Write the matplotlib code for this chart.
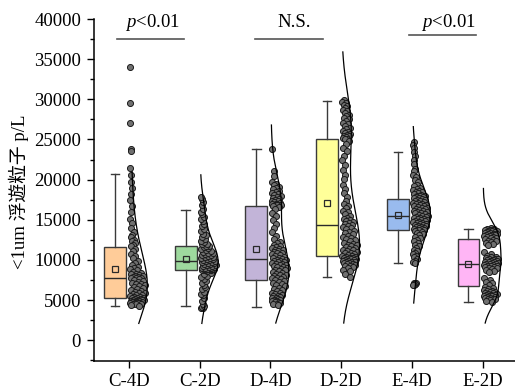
import numpy as np
import matplotlib
matplotlib.use("Agg")
import matplotlib.pyplot as plt
from matplotlib.ticker import MultipleLocator

plt.rcParams['font.family'] = ['Liberation Serif', 'Noto Sans CJK JP']
plt.rcParams['mathtext.fontset'] = 'custom'
plt.rcParams['mathtext.rm'] = 'Liberation Serif'
plt.rcParams['mathtext.it'] = 'Liberation Serif:italic'

groups = ['C-4D', 'C-2D', 'D-4D', 'D-2D', 'E-4D', 'E-2D']

# 各组 <1um 浮遊粒子 计数 (p/L)
c4d = [34000, 29600, 27100, 23800, 23600, 21400,
       20600, 19650, 18900, 18250, 17450, 16700, 15950, 15150, 14620, 14030, 13480, 13120,
       12840, 12510, 12330, 12090, 11880, 11690,
       11420, 11130, 10790, 10520, 10230, 9880, 9640, 9410, 9170, 9020, 8840, 8690,
       8560, 8410, 8290, 8210, 8080, 8010, 7960, 7880, 7860, 7790, 7750, 7710,
       7630, 7470, 7420, 7290, 7170, 7060, 6960, 6860, 6740, 6590, 6530, 6370,
       6290, 6140, 6060, 5950, 5850, 5780, 5680, 5600, 5520, 5440, 5390, 5320,
       5270, 5230, 5150, 5120, 5060, 5040, 4980, 4960, 4910, 4890, 4840, 4820,
       4770, 4760, 4710, 4700, 4650, 4640, 4590, 4550, 4530, 4470, 4420, 4330]
c2d = [3980, 4060, 4150, 4210,
       4460, 4890, 5270, 5590, 5810, 6040, 6370, 6590, 6920, 7140, 7360, 7590, 7820, 8040,
       8260, 8440, 8610, 8700,
       8770, 8790, 8820, 8830, 8860, 8890, 8920, 8970, 9010, 9050, 9130, 9160,
       9240, 9280, 9350, 9400, 9470, 9530, 9570, 9650, 9690, 9770, 9810,
       9870, 9940, 9980, 10070, 10120, 10220, 10260, 10370, 10410, 10520, 10580,
       10670, 10730, 10830, 10900, 11020, 11080, 11220, 11320, 11450, 11560, 11700,
       11790, 11930, 12040, 12240, 12380, 12620, 12810, 13060, 13280, 13590, 13860,
       14190, 14480, 14830, 15080, 15390, 15720, 16020, 16380, 16790, 17160, 17570, 17880]
d4d = [23800, 21100, 20450, 19720, 19480, 19310, 19090, 18920, 18780, 18620,
       18470, 18330, 18190, 18080, 17930, 17810, 17690, 17620, 17480, 17390,
       17310, 17180, 17120, 17010, 16960, 16890, 16860, 16810, 16790, 16770,
       16580, 16310, 15870, 15520, 15030, 14480, 14010, 13460, 13020, 12610,
       12280, 12110, 11920, 11790, 11660, 11480, 11410, 11290, 11220, 11090,
       11010, 10880, 10810, 10690, 10620, 10480, 10410, 10290, 10210, 10110,
       10040, 9990, 9890, 9860, 9760, 9710, 9610, 9560, 9470, 9410,
       9320, 9260, 9160, 9110, 8990, 8910, 8790, 8710, 8590, 8510,
       8390, 8310, 8190, 8110, 7990, 7910, 7790, 7710, 7590, 7520,
       7440, 7310, 7140, 7010, 6840, 6710, 6540, 6410, 6240, 6110,
       5940, 5860, 5740, 5660, 5540, 5460, 5370, 5310, 5210, 5160,
       5070, 5010, 4910, 4860, 4770, 4710, 4610, 4550, 4470, 4380]
d2d = [29900, 29680, 29520, 29290, 29130, 28880, 28720, 28490, 28310, 28080,
       27920, 27680, 27530, 27290, 27110, 26880, 26720, 26490, 26320, 26090,
       25910, 25820, 25690, 25610, 25480, 25420, 25290, 25210, 25120, 25070,
       24790, 24420, 23980, 23510, 22980, 22420, 21790, 21220, 20580, 20030,
       19380, 18820, 18290, 17810, 17380, 17020, 16690, 16420, 16080, 15920,
       15680, 15520, 15280, 15120, 14940, 14820, 14690, 14610, 14480, 14410,
       14240, 14110, 13940, 13820, 13640, 13520, 13340, 13210, 13040, 12920,
       12740, 12620, 12440, 12310, 12140, 12020, 11890, 11820, 11690, 11610,
       11490, 11420, 11290, 11220, 11090, 11020, 10890, 10820, 10690, 10610,
       10490, 10460, 10390, 10360, 10290, 10260, 10190, 10160, 10090, 10060,
       9990, 9960, 9890, 9860, 9790, 9760, 9690, 9660, 9590, 9560,
       9490, 9410, 9290, 9210, 9090, 9010, 8790, 8610, 8290, 7920]
e4d = [24700, 24280, 23910, 23380, 22920, 22390, 21920, 21380, 21020, 20590,
       20310, 19980, 19720, 19390, 19210, 18980, 18820, 18690, 18610, 18480,
       18420, 18290, 18210, 18090, 18020, 17940, 17910, 17840, 17790, 17720,
       17660, 17570, 17510, 17420, 17370, 17280, 17230, 17140, 17090, 16990,
       16940, 16850, 16800, 16710, 16660, 16570, 16520, 16430, 16380, 16290,
       16240, 16150, 16100, 16010, 15960, 15870, 15810, 15710, 15650, 15530,
       15430, 15350, 15310, 15230, 15190, 15110, 15070, 14990, 14950, 14870,
       14830, 14750, 14710, 14630, 14590, 14510, 14470, 14390, 14350, 14270,
       14230, 14150, 14110, 14030, 13990, 13910, 13870, 13790, 13770, 13740,
       13660, 13490, 13360, 13190, 13060, 12890, 12710, 12490, 12310, 12090,
       11910, 11690, 11510, 11290, 11110, 10890, 10710, 10490, 10310, 10090,
       9910, 9740, 9610, 7160, 7090, 7060, 6990, 6980, 6940, 6910]
e2d = [14010, 13890, 13860, 13790, 13760, 13690, 13660, 13590, 13560, 13490,
       13460, 13390, 13360, 13290, 13260, 13190, 13160, 13090, 13060, 12990,
       12960, 12890, 12860, 12790, 12710, 12590, 12510, 12390, 12310, 12190,
       12110, 11990, 11860,
       10990, 10790, 10510, 10390, 10310, 10190, 10160, 10090, 10060, 9990,
       9960, 9890, 9860, 9790, 9760, 9690, 9660, 9590, 9560, 9490,
       9460, 9390, 9360, 9290, 9260, 9190, 9160, 9090, 9060, 8990,
       8910, 8790, 8660, 8490,
       7710, 7490, 7310, 7090, 6910, 6690, 6560, 6390, 6310, 6190,
       6110, 5990, 5960, 5890, 5860, 5790, 5760, 5690, 5660, 5590,
       5560, 5490, 5460, 5390, 5360, 5290, 5260, 5190, 5160, 5090,
       4990, 4910, 4760]
values = [c4d, c2d, d4d, d2d, e4d, e2d]

# 箱线统计量
whis_lo = [4270, 4270, 4190, 7920, 9585, 4770]
q1 = [5300, 8750, 7510, 10535, 13730, 6800]
medians = [7720, 9835, 10085, 14320, 15475, 9500]
q3 = [11580, 11740, 16760, 25060, 17640, 12650]
whis_hi = [20650, 16220, 23800, 29790, 23400, 13900]
means = [8880, 10160, 11330, 17130, 15600, 9500]

# 分布曲线的范围
curve_lo = [2100, 2100, 2150, 2150, 4640, 2150]
curve_hi = [21000, 20600, 26800, 35900, 26600, 18900]

box_colors = ['#FFCC99', '#9ED99E', '#C2B4D8', '#FFFF99', '#99BBEE', '#FFB5F5']

# 显著性标注: (x0, x1, y, 文本)
sig_x0 = [0.83, 2.78, 4.96]
sig_x1 = [1.78, 3.74, 5.91]
sig_y = [37470, 37470, 38000]
sig_text = [r'$\it{p}$<0.01', 'N.S.', r'$\it{p}$<0.01']
sig_tx = [1.325, 3.33, 5.52]


def kde(vals, grid, bw_scale=1.4):
    vals = np.asarray(vals, dtype=float)
    bw = bw_scale * 1.06 * vals.std(ddof=1) * len(vals) ** -0.2
    z = (np.asarray(grid)[:, None] - vals[None, :]) / bw
    return np.exp(-0.5 * z ** 2).sum(axis=1)


fig = plt.figure(figsize=(5.15, 3.92), dpi=100)
ax = fig.add_axes([93.6 / 515, 31.3 / 392, 424.4 / 515, 341.7 / 392])

positions = np.arange(1, len(groups) + 1)
box_pos = positions - 0.2

stats = []
for i, g in enumerate(groups):
    stats.append(dict(label=g, whislo=whis_lo[i], q1=q1[i], med=medians[i],
                      q3=q3[i], whishi=whis_hi[i], mean=means[i], fliers=[]))

bp = ax.bxp(stats, positions=box_pos, widths=0.31, patch_artist=True,
            showmeans=True, showfliers=False, manage_ticks=False,
            boxprops=dict(edgecolor='#3a3a3a', linewidth=1.0),
            medianprops=dict(color='#2a2a2a', linewidth=1.0),
            whiskerprops=dict(color='#3a3a3a', linewidth=1.0),
            capprops=dict(color='#3a3a3a', linewidth=1.0),
            capwidths=0.12,
            meanprops=dict(marker='s', markerfacecolor='none',
                           markeredgecolor='#2a2a2a', markersize=4,
                           markeredgewidth=0.9))
for patch, col in zip(bp['boxes'], box_colors):
    patch.set_facecolor(col)
    patch.set_zorder(2)

# 散点 + 分布曲线
golden = 0.6180339887
for i, vals in enumerate(values):
    vals = np.asarray(vals, dtype=float)
    grid = np.linspace(curve_lo[i], curve_hi[i], 400)
    dens = kde(vals, grid)
    dmax = dens.max()
    pd_ = kde(vals, vals, bw_scale=0.8)
    pd_ = pd_ / pd_.max()
    u = (np.arange(len(vals)) * golden + 0.13 * i) % 1.0
    xs = positions[i] + 0.015 + u * 0.22 * pd_
    ax.scatter(xs, vals, s=19, facecolor='#707070', edgecolor='#1a1a1a',
               linewidth=0.7, zorder=3)
    ax.plot(positions[i] + 0.01 + 0.25 * dens / dmax, grid,
            color='black', linewidth=0.9, zorder=4)

for x0, x1, y, t, tx in zip(sig_x0, sig_x1, sig_y, sig_text, sig_tx):
    ax.plot([x0, x1], [y, y], color='#555555', linewidth=1.2,
            clip_on=False, zorder=5)
    ax.text(tx, 39000, t, ha='center', va='baseline', fontsize=13.5)

ax.set_xlim(0.5, 6.5)
ax.set_ylim(-2540, 40000)
ax.set_xticks(positions)
ax.set_xticklabels(groups)
ax.yaxis.set_major_locator(MultipleLocator(5000))
ax.yaxis.set_minor_locator(MultipleLocator(2500))
ax.set_yticks(np.arange(0, 40001, 5000))

for side in ['top', 'right']:
    ax.spines[side].set_visible(False)
for side in ['left', 'bottom']:
    ax.spines[side].set_linewidth(1.1)
ax.spines['left'].set_bounds(-2540, 40000)

ax.tick_params(axis='both', which='major', direction='out', length=5,
               width=1.0, labelsize=13.5, pad=4)
ax.tick_params(axis='y', which='minor', direction='out', length=3, width=1.0)
ax.tick_params(axis='x', which='minor', bottom=False)

fig.text(19 / 515, 1 - 192 / 392, '<1um 浮遊粒子 p/L', rotation=90,
         ha='center', va='center', fontsize=13.5)

fig.savefig('out.png', dpi=100)
